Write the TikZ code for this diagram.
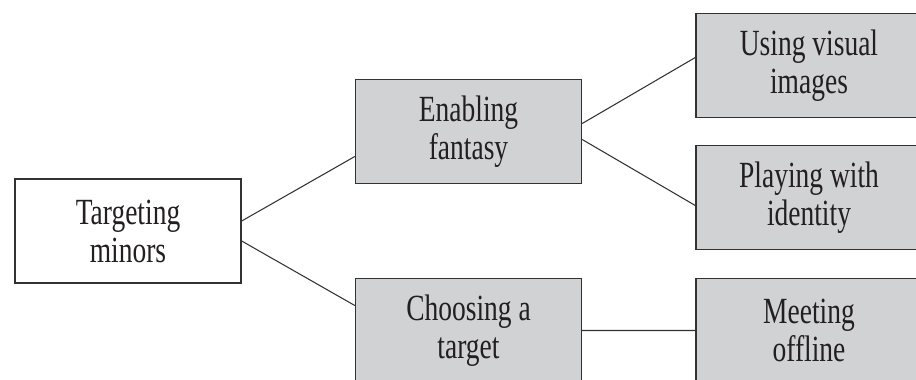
\documentclass[tikz,border=0pt]{standalone}
\usepackage{fontspec}
\setmainfont[FakeStretch=0.745]{Liberation Serif}
\usepackage{tikz}
\definecolor{boxgray}{RGB}{209,210,212}
\definecolor{boxline}{RGB}{50,50,50}
\definecolor{textdark}{RGB}{35,31,32}

\begin{document}
\begin{tikzpicture}
		[level 1/.style={sibling distance=39.8mm},
		 level 2/.style={sibling distance=26.4mm},
		 level distance=68.1mm,
		 box/.style={draw=boxline, line width=0.8pt, minimum width=45.2mm, minimum height=20.8mm,
		   inner sep=0pt, align=center, text=textdark, font=\fontsize{21}{21.6}\selectfont},
		 shaded/.style={box, fill=boxgray},
		 edge from parent/.style={draw=boxline, line width=0.6pt}]
			\useasboundingbox (0,0) rectangle (18.32,-7.58);
			\clip (0,0) rectangle (18.32,-7.58);
			\node[box] (tm) at (2.56,-4.62) {Targeting\\minors} [grow'=right]
			child[edge from parent path={([yshift=2mm]\tikzparentnode.east) -- ([yshift=-5mm]\tikzchildnode.west)}]
				{node[shaded] (ef) {Enabling\\fantasy}
				child[edge from parent path={([yshift=1.6mm]\tikzparentnode.east) -- ([yshift=1.6mm]\tikzchildnode.west)}]
					{node[shaded] (uv) {Using visual\\images}}
				child[edge from parent path={([yshift=-1.6mm]\tikzparentnode.east) -- ([yshift=-1.6mm]\tikzchildnode.west)}]
					{node[shaded] (pi) {Playing with\\identity}}
				}
			child[edge from parent path={([yshift=-2mm]\tikzparentnode.east) -- ([yshift=5mm]\tikzchildnode.west)}]
				{node[shaded] (ct) {Choosing a\\target}
				child[edge from parent path={(\tikzparentnode.east) -- (\tikzchildnode.west)}]
					{node[shaded] (mo) {Meeting\\offline}}
				} ;
	\end{tikzpicture}
\end{document}
